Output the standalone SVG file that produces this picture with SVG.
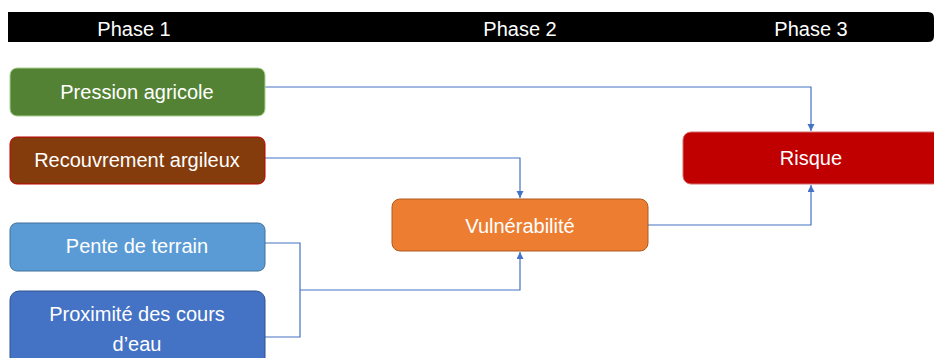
<svg xmlns="http://www.w3.org/2000/svg" width="934" height="358" viewBox="0 0 934 358">
<style>
.t{font-family:"Liberation Sans","Open Sans",Arial,sans-serif;font-size:20px;fill:#fff;text-anchor:middle;dominant-baseline:central}
.c{fill:none;stroke:#4472C4;stroke-width:1.2}
</style>
<defs>
<marker id="a" markerWidth="8" markerHeight="8" refX="7" refY="3.5" orient="auto" markerUnits="userSpaceOnUse">
<path d="M0,0 L7,3.5 L0,7 Z" fill="#4472C4"/>
</marker>
</defs>
<rect width="934" height="358" fill="#fff"/>
<g id="bar">
<path d="M8,12 H928 Q934,12 934,18 V36 Q934,42 928,42 H8 Z" fill="#000"/>
<text class="t" x="134" y="29">Phase 1</text>
<text class="t" x="520" y="29">Phase 2</text>
<text class="t" x="811" y="29">Phase 3</text>
</g>
<g id="connectors">
<path class="c" d="M265,87 H811 V131" marker-end="url(#a)"/>
<path class="c" d="M265,158 H520 V198" marker-end="url(#a)"/>
<path class="c" d="M265,243 H300 V337 H265"/>
<path class="c" d="M300,290 H520 V252" marker-end="url(#a)"/>
<path class="c" d="M648,225 H811 V185" marker-end="url(#a)"/>
</g>
<g id="pression">
<rect x="10" y="68" width="255" height="48" rx="7" fill="#548235" stroke="#A9D18E" stroke-width="1"/>
<text class="t" x="137" y="92">Pression agricole</text>
</g>
<g id="recouvrement">
<rect x="10" y="137" width="255" height="47" rx="7" fill="#843C0C" stroke="#C00000" stroke-width="1"/>
<text class="t" x="137" y="160">Recouvrement argileux</text>
</g>
<g id="pente">
<rect x="10" y="223" width="255" height="48" rx="7" fill="#5B9BD5" stroke="#41719C" stroke-width="1"/>
<text class="t" x="137" y="246">Pente de terrain</text>
</g>
<g id="proximite">
<rect x="10" y="291" width="255" height="80" rx="9" fill="#4472C4" stroke="#2F528F" stroke-width="1"/>
<text class="t" x="137" y="314">Proximité des cours</text>
<text class="t" x="137" y="344">d’eau</text>
</g>
<g id="vulnerabilite">
<rect x="392" y="199" width="256" height="52" rx="8" fill="#ED7D31" stroke="#AE5A21" stroke-width="1"/>
<text class="t" x="520" y="226">Vulnérabilité</text>
</g>
<g id="risque">
<rect x="683" y="132" width="258" height="52" rx="8" fill="#C00000" stroke="#D36A6A" stroke-width="1"/>
<text class="t" x="811" y="158">Risque</text>
</g>
</svg>
